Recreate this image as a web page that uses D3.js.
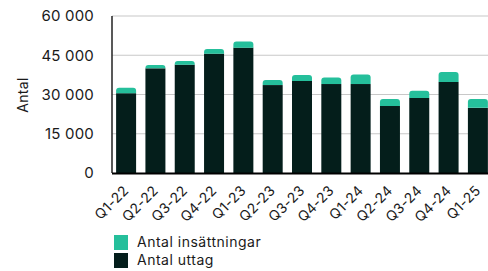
<!DOCTYPE html>
<html><head><meta charset="utf-8">
<script src="https://cdn.jsdelivr.net/npm/d3@7"></script>
<style>body{margin:0;background:#fff}svg{display:block;font-family:Inter,"DejaVu Sans",sans-serif}</style>
</head><body><svg id="c" width="488" height="271"></svg>
<script>
const categories = ["Q1-22","Q2-22","Q3-22","Q4-22","Q1-23","Q2-23","Q3-23","Q4-23","Q1-24","Q2-24","Q3-24","Q4-24","Q1-25"];
const uttag = [30500,40000,41400,45600,47900,33600,35200,34000,34000,25600,28700,34800,24900];
const insattningar = [2100,1300,1400,1800,2400,1900,2300,2500,3600,2700,2700,3800,3400];
const yTicks = [0,15000,30000,45000,60000];
const seriesNames = ["Antal insättningar","Antal uttag"];
const colors = ["#25bf9b","#041e1b"];

const svg = d3.select("#c");
const x = d3.scaleBand().domain(categories).range([112,492]).paddingInner(0.318).paddingOuter(0.14);
const y = d3.scaleLinear().domain([0,60000]).range([173,16]);
const fmt = v => d3.format(",")(v).replace(/,/g," ");

// grid
svg.append("g").selectAll("line").data(yTicks.slice(1)).join("line")
  .attr("x1",112).attr("x2",488).attr("y1",d=>y(d)).attr("y2",d=>y(d))
  .attr("stroke","#c8c8c8").attr("stroke-width",1.2);

// y labels
svg.append("g").selectAll("text").data(yTicks).join("text")
  .attr("x",94).attr("y",d=>y(d)).attr("dy","0.36em").attr("text-anchor","end")
  .attr("font-size",15).attr("letter-spacing",0.2).attr("fill","#1a1a1a").text(fmt);

svg.append("text").attr("transform","translate(28,95) rotate(-90)")
  .attr("text-anchor","middle").attr("font-size",14).attr("letter-spacing",0.3).attr("fill","#1a1a1a").text("Antal");

// bars
const g = svg.append("g");
g.selectAll("rect.u").data(categories).join("rect").attr("class","u")
  .attr("x",d=>x(d)).attr("width",x.bandwidth())
  .attr("y",(d,i)=>y(uttag[i])).attr("height",(d,i)=>y(0)-y(uttag[i]))
  .attr("fill",colors[1]);
g.selectAll("path.i").data(categories).join("path").attr("class","i")
  .attr("d",(d,i)=>{
    const x0=x(d), w=x.bandwidth(), top=y(uttag[i]+insattningar[i]), bot=y(uttag[i]), r=Math.min(3,(bot-top));
    return `M${x0},${bot}V${top+r}Q${x0},${top} ${x0+r},${top}H${x0+w-r}Q${x0+w},${top} ${x0+w},${top+r}V${bot}Z`;
  }).attr("fill",colors[0]);

// axes lines
svg.append("line").attr("x1",112).attr("x2",112).attr("y1",16).attr("y2",173).attr("stroke","#222").attr("stroke-width",1.5);
svg.append("line").attr("x1",112).attr("x2",488).attr("y1",173.5).attr("y2",173.5).attr("stroke","#000").attr("stroke-width",2);

// x labels
svg.append("g").selectAll("text").data(categories).join("text")
  .attr("transform",d=>`translate(${x(d)+x.bandwidth()/2},188) rotate(-45)`)
  .attr("text-anchor","end").attr("dy","0.35em").attr("font-size",14).attr("letter-spacing",0.3).attr("fill","#1a1a1a").text(d=>d);

// legend
const lg = svg.append("g").selectAll("g").data(seriesNames).join("g")
  .attr("transform",(d,i)=>`translate(114,${235+i*18})`);
lg.append("rect").attr("width",14).attr("height",15).attr("fill",(d,i)=>colors[i]);
lg.append("text").attr("x",23).attr("y",7.5).attr("dy","0.35em").attr("font-size",14).attr("letter-spacing",0.5).attr("fill","#1a1a1a").text(d=>d);
</script></body></html>
